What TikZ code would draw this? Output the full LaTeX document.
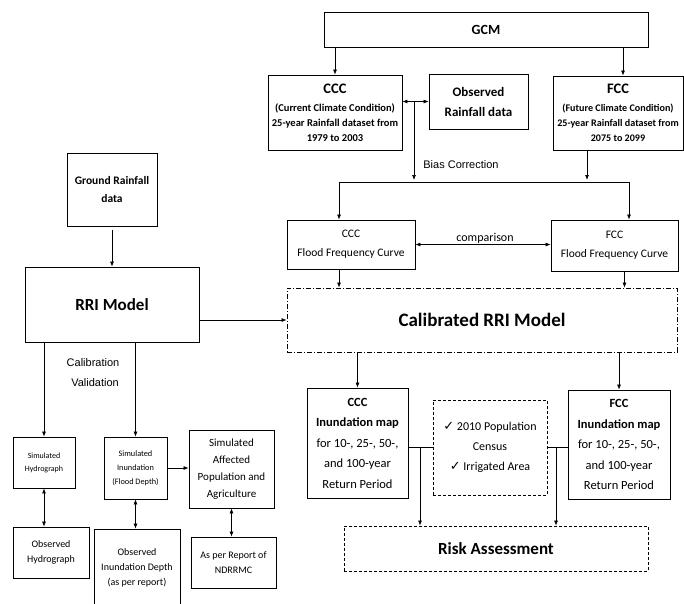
\documentclass[tikz,border=0pt]{standalone}
\usepackage{fontspec}
\setmainfont{Carlito}
\newfontfamily\arialfont{Liberation Sans}
\newfontfamily\tickfont{DejaVu Sans}
\usepackage{tikz}
\usetikzlibrary{arrows.meta}
\newcommand{\fs}[2]{\fontsize{#1}{#2}\selectfont}
\newcommand{\chk}{{\tickfont\fs{13}{12}✓}}
\tikzset{
  % plain box
  pbox/.style={rectangle, draw, line width=0.8pt, align=center, inner sep=1pt},
  % dashed box
  dbox/.style={pbox, dash pattern=on 3pt off 2pt},
  % dash-dot box
  ddbox/.style={pbox, dash pattern=on 5pt off 2pt on 1pt off 2pt},
  % one-way arrow
  arr/.style={-{Latex[length=5pt,width=4pt]}, line width=0.7pt},
  % two-way arrow
  darr/.style={{Latex[length=5pt,width=4pt]}-{Latex[length=5pt,width=4pt]}, line width=0.7pt},
  % plain joining line
  link/.style={line width=0.7pt},
  % side label
  lbl/.style={font=\arialfont\fs{11}{13}},
}
\begin{document}
\begin{tikzpicture}[x=1pt, y=-1pt]
  \useasboundingbox (0,0) rectangle (684,603);
  \clip (0,0) rectangle (684,603);
  % top row
  \node[pbox, minimum width=324, minimum height=35, font=\bfseries\fs{14}{17}] (gcm) at (486,29.5) {GCM};
  \node[pbox, minimum width=134, minimum height=75, font=\bfseries\fs{10.5}{15}] (ccc) at (335,112.5)
    {{\fs{14.5}{17}CCC}\\[3pt](Current Climate Condition)\\25-year Rainfall dataset from\\1979 to 2003};
  \node[pbox, minimum width=99, minimum height=55, font=\bfseries\fs{13}{20}] (obs) at (478.5,101.5) {Observed\\Rainfall data};
  \node[pbox, minimum width=130, minimum height=74, font=\bfseries\fs{10.1}{15}] (fcc) at (618,113)
    {{\fs{14.5}{17}FCC}\\[3pt](Future Climate Condition)\\25-year Rainfall dataset from\\2075 to 2099};
  \node[pbox, minimum width=128, minimum height=49, font=\fs{11.5}{19}] (cccffc) at (351,244.5) {CCC\\Flood Frequency Curve};
  \node[pbox, minimum width=127, minimum height=51, font=\fs{11.5}{19}] (fccffc) at (614.5,245.5) {FCC\\Flood Frequency Curve};
  \node[ddbox, minimum width=390, minimum height=64, font=\bfseries\fs{19}{22}] (calib) at (482,320) {Calibrated RRI Model};
  % left column
  \node[pbox, minimum width=90, minimum height=73, font=\bfseries\fs{11.5}{18}] (ground) at (112,189.5) {Ground Rainfall\\data};
  \node[pbox, minimum width=174, minimum height=75, font=\bfseries\fs{17}{20}] (rri) at (112,304.5) {RRI Model};
  \node[pbox, minimum width=62, minimum height=51, font=\fs{8}{13}] (simhyd) at (44,462.5) {Simulated\\Hydrograph};
  \node[pbox, minimum width=63, minimum height=62, font=\fs{8.3}{14}] (siminu) at (135.5,468) {Simulated\\Inundation\\(Flood Depth)};
  \node[pbox, minimum width=85, minimum height=78, font=\fs{11}{17}] (simaff) at (231.5,469) {Simulated\\Affected\\Population and\\Agriculture};
  \node[pbox, minimum width=76, minimum height=51, font=\fs{10}{15}] (obshyd) at (51,552.5) {Observed\\Hydrograph};
  \node[pbox, minimum width=86, minimum height=78, font=\fs{10}{15}] (obsinu) at (137,568) {Observed\\Inundation Depth\\(as per report)};
  \node[pbox, minimum width=85, minimum height=51, font=\fs{10}{14.5}] (ndrrmc) at (233.5,562.5) {As per Report of\\NDRRMC};
  % lower right
  \node[pbox, minimum width=101, minimum height=110, font=\fs{12.5}{20.5}] (cccinu) at (357.5,443)
    {\textbf{CCC}\\\textbf{Inundation map}\\for 10-, 25-, 50-,\\and 100-year\\Return Period};
  \node[dbox, minimum width=114, minimum height=95, font=\fs{12}{20}] (census) at (490,447.5) {\chk\ 2010 Population\\Census\\\chk\ Irrigated Area};
  \node[pbox, minimum width=102, minimum height=109, font=\fs{12.5}{20.5}] (fccinu) at (619,444.5)
    {\textbf{FCC}\\\textbf{Inundation map}\\for 10-, 25-, 50-,\\and 100-year\\Return Period};
  \node[dbox, minimum width=304, minimum height=45, font=\bfseries\fs{17}{20}] (risk) at (496,548.5) {Risk Assessment};
  % labels
  \node[lbl] (bias) at (461,165) {Bias Correction};
  \node[font=\fs{12}{14}] (cmp) at (485,238) {comparison};
  \node[lbl] (calbl) at (93,363) {Calibration};
  \node[lbl] (vallbl) at (95,383) {Validation};
  % branch points
  \coordinate (bsplit) at (414,101.5);
  \coordinate (bl) at (339,182);
  \coordinate (br) at (629,182);
  \coordinate (lj) at (420,447.5);
  \coordinate (rj) at (556,447.5);
  % connectors
  \draw[arr] (gcm.south -| ccc.north) -- (ccc.north);
  \draw[arr] ([xshift=5pt]gcm.south -| fcc.north) -- ([xshift=5pt]fcc.north);
  \draw[darr] (ccc.east |- obs.west) -- (obs.west);
  \draw[arr, shorten >=2pt] (bsplit) -- (bsplit |- bl);
  \draw[arr, shorten >=2pt] ([xshift=-31pt]fcc.south) -- ([xshift=-31pt]fcc.south |- bl);
  \draw[link] (bl) -- (br);
  \draw[arr] (bl) -- (bl |- cccffc.north);
  \draw[arr] (br) -- (br |- fccffc.north);
  \draw[darr] (cccffc.east) -- (cccffc.east -| fccffc.west);
  \draw[arr] (bl |- cccffc.south) -- (bl |- calib.north);
  \draw[arr] ([xshift=10pt]fccffc.south) -- ([xshift=10pt]fccffc.south |- calib.north);
  \draw[arr] ([yshift=-4pt]ground.south) -- (rri.north);
  \draw[arr] (rri.east |- calib.west) -- (calib.west);
  \draw[arr] (rri.south -| simhyd.north) -- (simhyd.north);
  \draw[arr] (rri.south -| siminu.north) -- (siminu.north);
  \draw[arr] (siminu.east) -- (siminu.east -| simaff.west);
  \draw[darr] (simhyd.south) -- (simhyd.south |- obshyd.north);
  \draw[darr] (siminu.south) -- (siminu.south |- obsinu.north);
  \draw[darr] (simaff.south) -- (simaff.south |- ndrrmc.north);
  \draw[arr] (cccinu.north |- calib.south) -- (cccinu.north);
  \draw[arr] (fccinu.north |- calib.south) -- (fccinu.north);
  \draw[link] (cccinu.east |- census.west) -- (census.west);
  \draw[link] (census.east) -- (census.east -| fccinu.west);
  \draw[arr] (lj) -- (lj |- risk.north);
  \draw[arr] (rj) -- (rj |- risk.north);
\end{tikzpicture}
\end{document}
